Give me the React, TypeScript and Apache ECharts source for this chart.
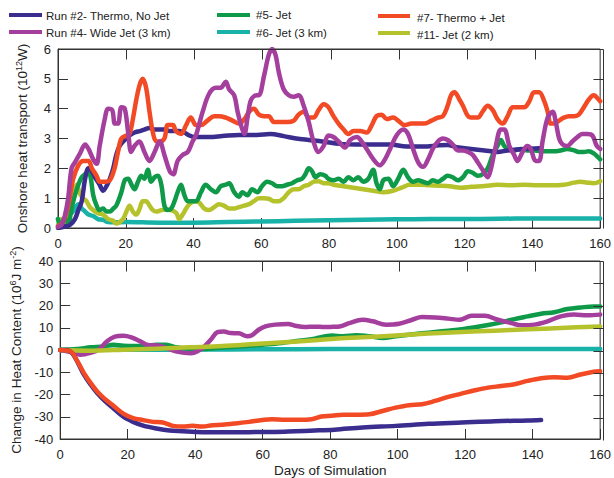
import React, { useEffect, useRef } from "react";
import * as echarts from "echarts";

// ---------- DATA (day, value) ----------
const dayTicks = [0, 20, 40, 60, 80, 100, 120, 140, 160];
const transportTicks = [0, 1, 2, 3, 4, 5, 6];
const heatTicks = [-40, -30, -20, -10, 0, 10, 20, 30, 40];

// Onshore heat transport (10^12 W)
const run2Transport: [number, number][] = [
  [0, 0], [2, 0.05], [3.5, 0.1], [5, 0.3], [6, 0.6], [7, 0.9], [8, 1.65], [9, 2.0], [10, 1.9], [10.9, 1.7],
  [12.3, 1.45], [13.3, 1.25], [14.3, 1.4], [15.3, 1.65], [16.3, 2.0], [17.2, 2.45], [18.2, 2.75], [19.7, 2.95],
  [21.1, 3.1], [22.6, 3.2], [24.1, 3.25], [25.5, 3.3], [27, 3.35], [28.5, 3.3], [30, 3.3], [31.4, 3.3], [33, 3.25],
  [34.4, 3.25], [35.8, 3.25], [37.3, 3.2], [38.8, 3.1], [40.2, 3.05], [41.7, 3.05], [44.6, 3.05], [48.5, 3.08],
  [53.4, 3.12], [58.7, 3.12], [62.6, 3.15], [66.6, 3.08], [70.3, 3.0], [74, 2.95], [78, 2.9], [83.3, 2.82],
  [88, 2.8], [93, 2.8], [98, 2.8], [102.9, 2.73], [107.7, 2.73], [112.5, 2.77], [115, 2.78], [117.6, 2.71],
  [121.9, 2.65], [125.9, 2.6], [129.7, 2.55], [132.7, 2.6], [137.6, 2.65], [142, 2.67],
];
const run4Transport: [number, number][] = [
  [0, 0.05], [1, 0.1], [2, 0.4], [3, 1.0], [4, 2.0], [5, 2.2], [6.5, 2.5], [8, 2.8], [9, 2.65], [10.4, 2.3],
  [11.4, 2.15], [12.3, 2.75], [13.8, 3.65], [14.8, 4.0], [16, 3.95], [16.8, 3.5], [17.7, 3.5], [18.7, 4.05],
  [19.7, 4.0], [20.7, 3.2], [21.6, 2.55], [22.6, 2.75], [24, 2.9], [25.5, 2.55], [27, 2.25], [28.5, 2.55],
  [30, 2.9], [31.4, 2.45], [33, 1.9], [34, 1.8], [35.3, 2.25], [36.8, 2.45], [38.3, 2.55], [39.7, 2.9],
  [40.7, 3.1], [42.7, 3.9], [44.6, 4.5], [46.6, 4.7], [48, 4.7], [49.5, 4.9], [50.5, 4.65], [52, 4.45],
  [53, 3.9], [54, 3.45], [55, 3.15], [56, 3.75], [57, 4.3], [58.7, 4.45], [59.3, 4.45], [60.8, 5.1], [62.2, 5.8],
  [63.2, 6.0], [64.2, 5.8], [65.2, 5.2], [66.6, 4.65], [68.1, 4.45], [69.6, 4.4], [71, 4.45], [72.5, 4.1],
  [74, 3.55], [75.4, 2.9], [76.9, 2.55], [78.4, 2.75], [79.8, 3.1], [81.3, 3.05], [82.8, 2.9], [84.7, 2.7],
  [86.2, 2.95], [88.2, 3.05], [89.6, 2.9], [91.1, 2.65], [93.1, 2.3], [95, 2.1], [96.5, 2.3], [98, 2.65],
  [99.9, 3.1], [101.9, 3.3], [103.3, 3.15], [104.8, 2.65], [106.3, 2.2], [107.7, 2.05], [109.2, 2.3],
  [110.6, 2.65], [112.1, 2.9], [113.6, 3.0], [115, 2.95], [116.5, 2.8], [118, 2.6], [119.5, 2.6], [121, 2.55],
  [122.4, 2.45], [123.9, 2.2], [125.3, 1.95], [126.8, 1.7], [127.8, 2.0], [129.2, 2.75], [130.7, 3.3],
  [131.7, 3.3], [133.2, 2.75], [134.6, 2.45], [135.6, 2.25], [137.1, 2.55], [138.5, 2.75], [139.5, 2.65],
  [141, 2.25], [142, 2.25], [143, 2.9], [144.5, 3.7], [146, 3.9], [146.9, 3.55], [147.9, 3.0], [148.9, 2.8],
  [150.3, 2.75], [151.8, 2.9], [153.3, 3.05], [154.7, 3.15], [156.2, 3.15], [157.7, 3.1], [159, 2.75], [160, 2.65],
];
const run5Transport: [number, number][] = [
  [0, 0.3], [1, 0.05], [2, 0.35], [3, 0.15], [4, 0.65], [5, 1.1], [6, 1.45], [7, 1.7], [8, 1.8], [9, 1.9],
  [9.7, 1.65], [10.4, 1.1], [11.4, 0.75], [12.3, 0.6], [13.3, 0.65], [14.3, 0.55], [15.3, 0.55], [16.3, 0.65],
  [17.2, 0.75], [18.7, 1.2], [19.7, 1.6], [20.7, 1.65], [21.7, 1.45], [22.6, 1.3], [23.6, 1.55], [24.6, 1.75],
  [25.5, 1.65], [26.5, 1.95], [27.5, 1.55], [28.5, 1.7], [29.5, 1.75], [30.5, 1.45], [31.4, 0.75], [32.4, 0.6],
  [33.4, 0.65], [34.4, 0.9], [35.3, 1.2], [36.3, 1.45], [37.3, 1.1], [38.3, 0.9], [39.2, 0.9], [40.7, 0.9],
  [42.2, 1.2], [43.6, 1.45], [45.1, 1.3], [46.6, 1.2], [48, 1.4], [49.5, 1.45], [50.5, 1.5], [52, 1.2],
  [53.4, 1.05], [54.4, 1.2], [55.9, 1.1], [57.3, 1.3], [58.8, 1.2], [60.2, 1.4], [61.7, 1.55], [63.2, 1.5],
  [64.7, 1.4], [66.1, 1.4], [67.6, 1.45], [69.1, 1.5], [70.6, 1.6], [72, 1.65], [73, 1.8], [74, 2.0], [75, 1.9],
  [76, 1.7], [77.4, 1.8], [78.9, 1.75], [79.8, 1.65], [81.3, 1.6], [82.8, 1.65], [84.3, 1.55], [85.7, 1.7],
  [87.2, 1.6], [88.6, 1.7], [90.1, 1.55], [91.6, 1.65], [93, 1.95], [94, 1.5], [95, 1.3], [96, 1.6],
  [97.5, 1.65], [98.9, 1.4], [100.4, 1.65], [101.9, 1.95], [103.3, 1.7], [104.8, 1.55], [106.3, 1.6],
  [107.7, 1.55], [109.2, 1.5], [110.6, 1.6], [112.1, 1.55], [113.6, 1.65], [115, 1.75], [116.5, 1.7],
  [118, 1.6], [119.5, 1.7], [121, 1.9], [122.4, 1.85], [123.9, 1.75], [125.3, 1.8], [126.8, 2.0], [128.3, 2.45],
  [129.7, 2.75], [130.7, 2.95], [131.7, 2.75], [132.7, 2.65], [134.6, 2.6], [136.6, 2.65], [138.5, 2.6],
  [140.5, 2.6], [142.5, 2.57], [144.5, 2.57], [146.4, 2.57], [148.3, 2.6], [150.3, 2.65], [152.3, 2.6],
  [153.7, 2.55], [155.2, 2.55], [156.6, 2.57], [158.1, 2.5], [159.6, 2.35], [160, 2.3],
];
const run6Transport: [number, number][] = [
  [0, 0.3], [1, 0.05], [2, 0.15], [3, 0.45], [4, 0.5], [5, 0.65], [6, 0.8], [7, 0.65], [8, 0.55], [9, 0.45],
  [10.4, 0.4], [11.8, 0.3], [13.3, 0.27], [14.8, 0.2], [16.7, 0.19], [20, 0.2], [30, 0.18], [40, 0.18],
  [50, 0.2], [60, 0.22], [70, 0.24], [80, 0.26], [90, 0.28], [100, 0.29], [110, 0.3], [120, 0.3], [130, 0.31],
  [140, 0.32], [150, 0.32], [160, 0.32],
];
const run7Transport: [number, number][] = [
  [0, 0.05], [1.5, 0.2], [3, 0.75], [4.5, 1.65], [6, 2.1], [7.4, 2.25], [9, 2.25], [10, 2.0], [11.4, 1.75],
  [12.3, 1.55], [13.8, 1.55], [15.3, 1.6], [16.7, 2.0], [17.7, 2.55], [18.7, 3.0], [20.2, 3.1], [21.1, 3.15],
  [22.1, 3.65], [23.1, 4.3], [24.1, 4.8], [25, 5.0], [26, 4.7], [27, 3.9], [28, 3.2], [29, 2.9], [30, 2.9],
  [31.4, 3.0], [32.4, 3.45], [33.9, 3.45], [34.8, 3.25], [36.3, 3.15], [37.8, 3.45], [39.2, 3.7], [40.7, 3.45],
  [42.2, 3.45], [44.1, 3.6], [46.1, 3.75], [47.5, 3.75], [49.5, 3.7], [51.5, 3.6], [53.4, 3.5], [55, 3.65],
  [56.4, 3.9], [57.8, 4.0], [59.3, 3.8], [60.8, 3.75], [62.2, 3.75], [63.7, 3.55], [65.6, 3.55], [67.6, 3.55],
  [69.6, 3.6], [71, 3.8], [72.5, 3.9], [74, 3.7], [75.4, 3.7], [76.9, 3.95], [78.4, 4.15], [79.8, 4.05],
  [81.3, 3.75], [82.8, 3.5], [84.3, 3.3], [85.7, 3.15], [87.2, 3.25], [89.2, 3.25], [91.1, 3.2], [92.6, 3.45],
  [94, 3.75], [95.5, 3.8], [97, 3.65], [98.9, 3.7], [100.4, 3.6], [102.3, 3.45], [104.3, 3.5], [106.3, 3.5],
  [108.2, 3.5], [110.2, 3.6], [112.1, 3.7], [113.6, 3.75], [115, 4.1], [116, 4.45], [117, 4.55], [118.5, 4.3],
  [119.5, 4.1], [121, 3.75], [122.4, 3.7], [123.9, 3.7], [125.3, 3.9], [126.8, 4.1], [128.3, 3.95],
  [129.7, 3.65], [131.2, 3.5], [132.7, 3.75], [134.2, 4.05], [135.7, 4.05], [137.6, 4.05], [139.1, 4.25],
  [140.5, 4.55], [142, 4.55], [143.5, 4.25], [144.5, 3.9], [145.4, 3.5], [146.4, 3.5], [147.9, 3.6],
  [149.3, 3.7], [150.8, 3.75], [152.3, 3.75], [153.7, 3.8], [155.2, 4.05], [156.6, 4.3], [158.1, 4.45],
  [159.6, 4.3], [160, 4.25],
];
const run11Transport: [number, number][] = [
  [0, 0.1], [1, 0.3], [2, 0.2], [3, 0.65], [4, 0.9], [5, 1.3], [5.5, 1.45], [6.5, 1.15], [7.4, 1.0], [8.4, 0.9],
  [9.4, 0.7], [10.4, 0.6], [11.8, 0.5], [13.3, 0.45], [14.8, 0.3], [16.2, 0.25], [17.2, 0.15], [18.2, 0.2],
  [19.2, 0.3], [20.2, 0.55], [21.1, 0.75], [22.1, 0.55], [23.1, 0.45], [24.1, 0.65], [25, 0.9], [26, 0.9],
  [27, 0.75], [28, 0.6], [29, 0.55], [30.5, 0.6], [31.9, 0.62], [33.4, 0.6], [34.9, 0.5], [35.8, 0.3],
  [36.8, 0.45], [37.8, 0.65], [38.8, 0.8], [40.2, 0.9], [41.7, 0.85], [43.2, 0.65], [44.6, 0.6], [46.1, 0.7],
  [47.5, 0.8], [49, 0.75], [50.5, 0.65], [52, 0.65], [53.4, 0.7], [55, 0.75], [56.4, 0.8], [57.8, 0.9],
  [59.3, 1.0], [60.8, 1.0], [62.2, 0.98], [63.7, 0.9], [65.2, 0.9], [66.6, 1.0], [68.1, 1.2], [69.6, 1.3],
  [71, 1.3], [72.5, 1.4], [74, 1.45], [75.4, 1.55], [76.9, 1.57], [78.4, 1.5], [79.8, 1.5], [81.3, 1.45],
  [84.3, 1.4], [87.2, 1.35], [90.1, 1.3], [93, 1.25], [96, 1.2], [98.9, 1.25], [101.4, 1.35], [103.8, 1.45],
  [106.8, 1.45], [109.7, 1.43], [112.6, 1.42], [115.6, 1.4], [119, 1.35], [121.9, 1.38], [125.9, 1.41],
  [129.7, 1.45], [133.6, 1.43], [137.6, 1.45], [141.5, 1.43], [145.4, 1.43], [149.3, 1.45], [152.3, 1.52],
  [154.2, 1.55], [156.2, 1.52], [158.1, 1.5], [160, 1.57],
];

// Change in heat content (10^6 J m^-2)
const run2Heat: [number, number][] = [
  [0, 0], [2, 0], [3.5, -1.3], [5, -5], [7, -11], [9, -15.5], [10.9, -19.2], [13.3, -23], [15.8, -26.3],
  [18.7, -30], [21.6, -32.3], [24.6, -34], [28.5, -35.3], [32.4, -36.2], [36.3, -36.5], [40.2, -36.8],
  [46.1, -37], [52, -37], [57.8, -36.9], [63.7, -36.8], [69.6, -36.5], [75.4, -36.2], [81.3, -35.8],
  [89.6, -34.8], [99.4, -34.1], [109.2, -33.2], [119, -32.6], [128.8, -32], [138.6, -31.7], [142.5, -31.5],
];
const run4Heat: [number, number][] = [
  [0, 0], [3, -0.9], [6, -2.1], [9, -1.3], [11.4, 0.1], [13.8, 3.8], [16.2, 6.0], [18.7, 6.4], [21.1, 5.7],
  [23.6, 4.0], [26, 2.2], [29, 2.0], [31.4, 0.9], [34.3, -0.6], [36.8, -1.3], [38.7, -1.5], [40.7, -0.6],
  [42.7, 1.6], [44.6, 4.6], [46.6, 8.0], [48.5, 8.3], [50.5, 7.6], [52.9, 7.5], [55.4, 6.2], [56.8, 6.6],
  [58.8, 9.1], [60.8, 10.6], [63.7, 11.4], [67.6, 11.7], [69.6, 10.9], [72.5, 10.3], [75.4, 10.5], [78.4, 10.3],
  [80.5, 10.4], [82.8, 10.6], [85.7, 12.1], [89.6, 13.6], [92.6, 12.9], [96.5, 11.4], [100.4, 11.8],
  [104.3, 13.6], [107.2, 14.8], [111.1, 14.6], [115, 14.1], [118.4, 13.6], [121.9, 15.4], [125.8, 15.4],
  [129.7, 13.6], [133.7, 12.1], [136.6, 11.1], [140.5, 11.4], [144.4, 12.9], [148.3, 15.1], [152.2, 15.9],
  [156.2, 15.6], [160, 15.9],
];
const run5Heat: [number, number][] = [
  [0, 0], [5, 0.4], [9, 1.2], [12.8, 1.6], [15.8, 2.4], [18.7, 1.9], [22.6, 1.8], [25.5, 1.9], [28.5, 2.4],
  [31.4, 2.4], [34.3, 1.2], [38.3, 0.6], [42.2, 0.4], [46.1, 0.9], [52, 1.5], [57.8, 2.1], [63.7, 2.8],
  [69.6, 3.9], [75.4, 5.1], [80.5, 6.5], [83.8, 6.2], [87.7, 6.6], [91.6, 6.2], [95.5, 5.4], [99.4, 6.2],
  [103.3, 6.9], [107.2, 7.5], [111.1, 8.1], [115, 8.7], [118.9, 9.3], [122.9, 10.2], [126.8, 11.2],
  [130.7, 12.4], [134.6, 13.9], [138.5, 15.1], [142.5, 16.3], [146.4, 17.0], [150.3, 18.4], [154.2, 19.1],
  [158.1, 19.6], [160, 19.6],
];
const run6Heat: [number, number][] = [
  [0, 0], [20, 0.1], [40, 0.2], [60, 0.3], [80, 0.4], [100, 0.5], [120, 0.5], [140, 0.5], [160, 0.5],
];
const run7Heat: [number, number][] = [
  [0, 0], [3, -0.6], [5, -4.8], [7, -10.3], [9, -14.8], [10.9, -18.5], [13.3, -22.1], [15.8, -25.1],
  [18.7, -28.6], [21.6, -30.6], [24.6, -31.5], [27.5, -32.3], [30.4, -32.6], [33.4, -34.1], [36.3, -34.4],
  [39.2, -34.1], [42.2, -34.4], [45.1, -33.8], [48, -33.6], [52, -33], [55.9, -32.3], [59.8, -31.5],
  [62.7, -31.1], [66.6, -31.4], [70.6, -31.4], [74.5, -31.1], [77.4, -29.9], [80.5, -29.6], [83.8, -29.1],
  [87.7, -29.1], [91.6, -28.9], [95.5, -27.4], [99.4, -25.9], [103.3, -24.8], [107.2, -24.4], [111.1, -22.9],
  [115, -21.1], [118.9, -19.6], [122.9, -18.1], [126.8, -16.9], [130.7, -16.2], [134.6, -15.4], [138.5, -13.9],
  [142.5, -12.7], [146.4, -12.2], [150.3, -12.5], [154.2, -11], [158.1, -9.8], [160, -9.5],
];
const run11Heat: [number, number][] = [
  [0, 0], [9, -0.3], [18.7, 0.1], [28.5, 0.6], [38.3, 1.2], [48, 1.8], [57.8, 2.7], [67.6, 3.6], [77.4, 4.6],
  [81.3, 5.1], [89.6, 5.7], [99.4, 6.5], [109.2, 7.4], [119, 8.1], [128.8, 8.7], [138.6, 9.3], [148.3, 9.9],
  [160, 10.6],
];

const seriesNames = [
  "Run #2- Thermo, No Jet",
  "Run #4- Wide Jet (3 km)",
  "#5- Jet",
  "#6- Jet (3 km)",
  "#7- Thermo + Jet",
  "#11- Jet (2 km)",
];
const seriesColors = ["#3a2d8e", "#a43f9e", "#0f9a4a", "#18b2a8", "#f24a25", "#b6c22c"];

const FONT = "'Liberation Sans', Arial, Helvetica, sans-serif";
const FRAME = "#333";
const TICK_LEN = 10;
// panel layout (pixels)
const PLOT_LEFT = 58;
const PLOT_WIDTH = 545;
const PANEL_TOPS = [49, 261];
const PANEL_HEIGHT = 179;

export default function App() {
  const ref = useRef<HTMLDivElement>(null);
  useEffect(() => {
    if (!ref.current) return;
    const chart = echarts.init(ref.current, null, { renderer: "svg" });

    const mkAxisLine = () => ({ show: true, onZero: false, lineStyle: { color: FRAME, width: 1 } });
    const mkTick = () => ({ show: true, inside: true, length: TICK_LEN, lineStyle: { color: FRAME, width: 1 } });
    const label = { fontSize: 13, color: "#222", fontFamily: FONT };

    const xAxisBase = (gridIndex: number, name?: string) => ({
      type: "value" as const,
      gridIndex,
      position: "bottom" as const,
      min: dayTicks[0],
      max: dayTicks[dayTicks.length - 1],
      interval: 20,
      axisLine: mkAxisLine(),
      axisTick: mkTick(),
      splitLine: { show: false },
      axisLabel: { ...label, margin: 9 },
      name: name ?? "",
      nameLocation: "middle" as const,
      nameGap: 24,
      nameTextStyle: { fontSize: 13.5, color: "#222", fontFamily: FONT },
    });
    const yAxisBase = (gridIndex: number, ticks: number[], name: string) => ({
      type: "value" as const,
      gridIndex,
      position: "left" as const,
      min: ticks[0],
      max: ticks[ticks.length - 1],
      interval: ticks[1] - ticks[0],
      axisLine: mkAxisLine(),
      axisTick: mkTick(),
      splitLine: { show: false },
      axisLabel: { ...label, margin: 7 },
      name,
      nameLocation: "middle" as const,
      nameGap: 27,
      nameRotate: 90,
      nameTextStyle: {
        fontSize: 13.5,
        color: "#222",
        fontFamily: FONT,
        rich: {
          sup: { fontSize: 9, fontFamily: FONT, color: "#222", verticalAlign: "top", padding: [0, 0, 8, 0] },
        },
      },
    });

    const mk = (name: string, idx: number, data: [number, number][], ai: number) => ({
      name,
      type: "line" as const,
      xAxisIndex: ai,
      yAxisIndex: ai,
      data,
      showSymbol: false,
      symbol: "none",
      smooth: 0.35,
      lineStyle: { color: seriesColors[idx], width: 4.5, cap: "round", join: "round" },
      itemStyle: { color: seriesColors[idx] },
      z: 2,
    });

    const legendPos = [
      { x1: 9, x2: 42, y: 15, tx: 46, ty: 16 },
      { x1: 9, x2: 42, y: 32, tx: 46, ty: 33 },
      { x1: 217, x2: 250, y: 15, tx: 256, ty: 15 },
      { x1: 217, x2: 250, y: 32, tx: 256, ty: 32.5 },
      { x1: 378, x2: 410, y: 16, tx: 417, ty: 18 },
      { x1: 378, x2: 410, y: 33, tx: 417, ty: 35 },
    ];
    const graphic: any[] = [];
    seriesNames.forEach((nm, i) => {
      const p = legendPos[i];
      graphic.push({
        type: "line",
        shape: { x1: p.x1, y1: p.y, x2: p.x2, y2: p.y },
        style: { stroke: seriesColors[i], lineWidth: 4 },
      });
      graphic.push({
        type: "text",
        x: p.tx,
        y: p.ty,
        style: {
          text: nm,
          fontSize: 11.5,
          fontFamily: FONT,
          fill: "#222",
          textVerticalAlign: "middle",
          verticalAlign: "middle",
        },
      });
    });

    // Mirrored frame: top and right edges with inward ticks (decoration of the panel boxes)
    const addFrame = (top: number, yTicks: number[]) => {
      const t = top + 0.5;
      const b = top + PANEL_HEIGHT + 0.5;
      const l = PLOT_LEFT + 0.5;
      const r = PLOT_LEFT + PLOT_WIDTH + 0.5;
      const seg = (x1: number, y1: number, x2: number, y2: number) =>
        graphic.push({
          type: "line",
          z: 50,
          zlevel: 0,
          silent: true,
          shape: { x1, y1, x2, y2 },
          style: { stroke: FRAME, lineWidth: 1, fill: null },
        });
      seg(l, t, r, t);
      seg(r, t, r, b);
      const x0 = dayTicks[0];
      const x1 = dayTicks[dayTicks.length - 1];
      dayTicks.slice(1, -1).forEach((d) => {
        const x = Math.round(PLOT_LEFT + ((d - x0) / (x1 - x0)) * PLOT_WIDTH) + 0.5;
        seg(x, t, x, t + TICK_LEN);
      });
      const y0 = yTicks[0];
      const y1 = yTicks[yTicks.length - 1];
      yTicks.slice(1, -1).forEach((v) => {
        const y = Math.round(top + PANEL_HEIGHT - ((v - y0) / (y1 - y0)) * PANEL_HEIGHT) + 0.5;
        seg(r - TICK_LEN, y, r, y);
      });
    };
    addFrame(PANEL_TOPS[0], transportTicks);
    addFrame(PANEL_TOPS[1], heatTicks);

    chart.setOption({
      animation: false,
      backgroundColor: "#fff",
      textStyle: { fontFamily: FONT },
      grid: PANEL_TOPS.map((top) => ({
        left: PLOT_LEFT,
        width: PLOT_WIDTH,
        top,
        height: PANEL_HEIGHT,
        show: true,
        borderColor: FRAME,
        borderWidth: 1,
        backgroundColor: "rgba(0,0,0,0)",
      })),
      xAxis: [xAxisBase(0), xAxisBase(1, "Days of Simulation")],
      yAxis: [
        yAxisBase(0, transportTicks, "Onshore heat transport (10{sup|12}W)"),
        yAxisBase(1, heatTicks, "Change in Heat Content (10{sup|6}J m{sup|-2})"),
      ],
      graphic: { elements: graphic },
      series: [
        mk(seriesNames[3], 3, run6Transport, 0),
        mk(seriesNames[5], 5, run11Transport, 0),
        mk(seriesNames[2], 2, run5Transport, 0),
        mk(seriesNames[0], 0, run2Transport, 0),
        mk(seriesNames[4], 4, run7Transport, 0),
        mk(seriesNames[1], 1, run4Transport, 0),
        mk(seriesNames[3], 3, run6Heat, 1),
        mk(seriesNames[2], 2, run5Heat, 1),
        mk(seriesNames[1], 1, run4Heat, 1),
        mk(seriesNames[5], 5, run11Heat, 1),
        mk(seriesNames[0], 0, run2Heat, 1),
        mk(seriesNames[4], 4, run7Heat, 1),
      ],
    });

    return () => chart.dispose();
  }, []);
  return <div ref={ref} style={{ width: 614, height: 478, position: "absolute", left: 0, top: 0 }} />;
}
